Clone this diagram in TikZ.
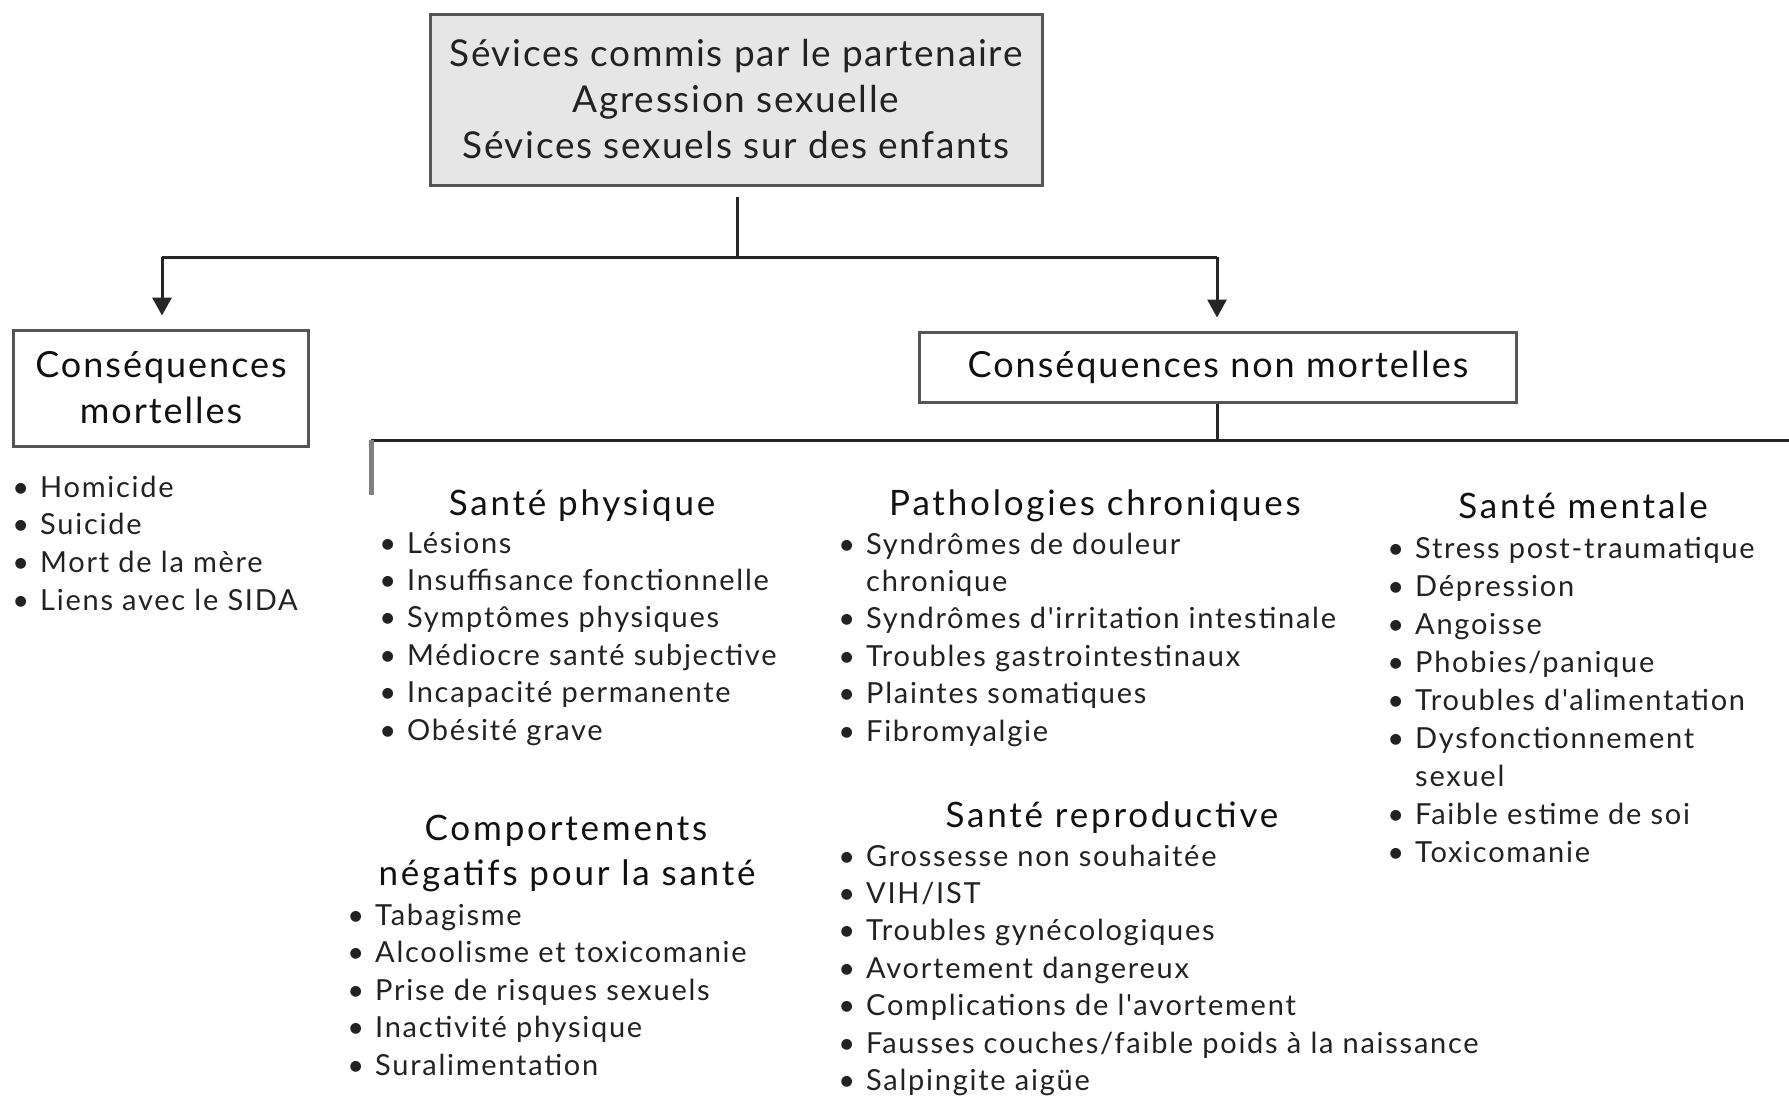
\documentclass[tikz,border=0pt]{standalone}
\usepackage{fontspec}
\setmainfont{Lato}
\newfontfamily\itemfont[LetterSpace=6]{Lato}
\newfontfamily\hdfont[LetterSpace=8]{Lato}
\newfontfamily\boxfont[LetterSpace=4.5]{Lato}
\newfontfamily\conbfont[LetterSpace=5.5]{Lato}
\usetikzlibrary{arrows.meta,calc}
\definecolor{txt}{HTML}{222222}
\definecolor{hd}{HTML}{111111}
\definecolor{boxfill}{HTML}{E6E6E6}
\definecolor{boxline}{HTML}{555555}
\newcommand{\bul}{\llap{•\hspace{11pt}}}
\begin{document}
\begin{tikzpicture}[x=1pt,y=-1pt,
  topbox/.style={draw=boxline, fill=boxfill, line width=3pt, inner sep=0pt,
    minimum width=612pt, minimum height=171pt, align=center, text=txt,
    font=\boxfont\fontsize{37}{46}\selectfont},
  conbox/.style={draw=boxline, line width=3pt, inner sep=0pt, align=center, text=hd,
    font=\conbfont\fontsize{36}{46}\selectfont},
  ln/.style={draw=black!85, line width=3pt},
  arr/.style={ln, -{Triangle[length=18pt,width=19pt]}, shorten >=13pt},
  tk/.style={draw=black!50, line width=5pt},
  hdg/.style={anchor=base, inner sep=0pt, text=hd, font=\hdfont\fontsize{35}{40}\selectfont},
  itm/.style={anchor=base west, inner sep=0pt, text=txt, font=\itemfont\fontsize{29}{37}\selectfont},
]
\useasboundingbox (0,0) rectangle (1789,1096);

% boxes
\node[topbox] (top) at (736,99.5) {Sévices commis par le partenaire\\Agression sexuelle\\Sévices sexuels sur des enfants};
\node[conbox, minimum width=295pt, minimum height=116pt] (mort) at (161,388) {Conséquences\\mortelles};
\node[conbox, minimum width=597pt, minimum height=70pt] (nonm) at (1218,367) {Conséquences non mortelles};

% connectors
\coordinate (t1) at (737,197);
\coordinate (split) at (737,257);
\coordinate (lc) at (162,257);
\coordinate (rc) at (1217,257);
\draw[ln] (t1) -- (split);
\draw[ln] (lc) -- (rc);
\draw[arr] (lc) -- (lc |- mort.north);
\draw[arr] (rc) -- (rc |- nonm.north);
\coordinate (nb) at (1217,440);
\draw[ln] (nonm.south -| nb) -- (nb);
\coordinate (hl) at (371,440);
\coordinate (hr) at (1789,440);
\draw[ln] (hl) -- (hr);
\coordinate (tick) at (371,495);
\draw[tk] (hl) -- (tick);

% headings
\node[hdg] (hph) at (582,515) {Santé physique};
\node[hdg] (hpa) at (1095,515) {Pathologies chroniques};
\node[hdg] (hme) at (1583,518) {Santé mentale};
\node[hdg] (hco1) at (566,840) {Comportements};
\node[hdg] (hco2) at (567,885) {négatifs pour la santé};
\node[hdg] (hre) at (1112,827) {Santé reproductive};

% lists
\foreach \b/\t [count=\i from 0] in {1/Homicide, 1/Suicide, 1/Mort de la mère, 1/Liens avec le SIDA}
  \node[itm] (mo\i) at (40, 497+\i*37.7) {\ifnum\b=1 \bul\fi\t};
\foreach \b/\t [count=\i from 0] in {1/Lésions, 1/Insuffisance fonctionnelle, 1/Symptômes physiques, 1/Médiocre santé subjective, 1/Incapacité permanente, 1/Obésité grave}
  \node[itm] (ph\i) at (407, 553+\i*37.4) {\ifnum\b=1 \bul\fi\t};
\foreach \b/\t [count=\i from 0] in {1/Syndrômes de douleur, 0/chronique, 1/Syndrômes d'irritation intestinale, 1/Troubles gastrointestinaux, 1/Plaintes somatiques, 1/Fibromyalgie}
  \node[itm] (pa\i) at (866, 554+\i*37.4) {\ifnum\b=1 \bul\fi\t};
\foreach \b/\t [count=\i from 0] in {1/Stress post-traumatique, 1/Dépression, 1/Angoisse, 1/{Phobies/panique}, 1/Troubles d'alimentation, 1/Dysfonctionnement, 0/sexuel, 1/Faible estime de soi, 1/Toxicomanie}
  \node[itm] (me\i) at (1415, 558+\i*38) {\ifnum\b=1 \bul\fi\t};
\foreach \b/\t [count=\i from 0] in {1/Tabagisme, 1/Alcoolisme et toxicomanie, 1/Prise de risques sexuels, 1/Inactivité physique, 1/Suralimentation}
  \node[itm] (co\i) at (375, 925+\i*37.5) {\ifnum\b=1 \bul\fi\t};
\foreach \b/\t [count=\i from 0] in {1/Grossesse non souhaitée, 1/{VIH/IST}, 1/Troubles gynécologiques, 1/Avortement dangereux, 1/Complications de l'avortement, 1/{Fausses couches/faible poids à la naissance}, 1/Salpingite aigüe}
  \node[itm] (re\i) at (866, 866+\i*37.4) {\ifnum\b=1 \bul\fi\t};
\end{tikzpicture}
\end{document}
